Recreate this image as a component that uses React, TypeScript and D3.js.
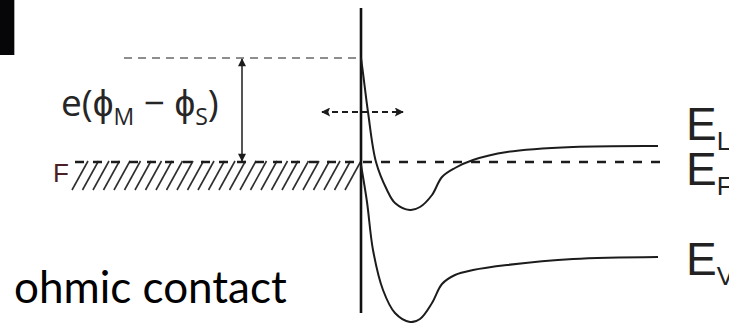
import React from 'react'
import * as d3 from 'd3'

// distance from the contact (nm) and band energy (eV, Fermi level = 0)
const cbPos = [0, 0.2, 0.7, 1.5, 2.6, 3.4, 4.9, 5.9, 7.1, 8.1, 9.4, 11.2, 14.6, 21.2, 29.7]
const cbEnergy = [2.08, 1.78, 1.0, 0, -0.56, -0.82, -0.96, -0.9, -0.66, -0.3, -0.12, 0.04, 0.2, 0.3, 0.32]
const vbPos = [0, 0.6, 1.2, 2.2, 3.4, 4.9, 5.9, 7.1, 8.1, 9.4, 11.2, 14.6, 21.2, 29.7]
const vbEnergy = [-0.06, -0.8, -1.76, -2.56, -3.02, -3.2, -3.14, -2.82, -2.44, -2.26, -2.16, -2.06, -1.94, -1.9]

const fermiLevel = 0
const metalTop = 2.08
const metalBottom = -0.56
const metalStart = -28.9
const bandEnd = 29.7
const bandLabels = ['L', 'F', 'V']
const bandLabelEnergy = [0.44, -0.46, -2.26]

const W = 729
const H = 323

function App() {
  const x = d3.scaleLinear().domain([-36.1, 36.8]).range([0, W])
  const y = d3.scaleLinear().domain([-3.22, 3.24]).range([H, 0])

  const line = d3
    .line<[number, number]>()
    .x(d => x(d[0]))
    .y(d => y(d[1]))
    .curve(d3.curveCatmullRom.alpha(0.5))

  const cb = line(cbPos.map((p, i) => [p, cbEnergy[i]]))
  const vb = line(vbPos.map((p, i) => [p, vbEnergy[i]]))

  const hatch = d3.range(metalStart, -0.6, 1.05)
  const ink = '#1c1c1c'

  return (
    <svg
      width={W}
      height={H}
      style={{ position: 'absolute', left: 0, top: 0, background: '#fff' }}
    >
      <defs>
        <marker id="ah" viewBox="0 0 10 10" refX="9" refY="5" markerWidth="10" markerHeight="8" markerUnits="userSpaceOnUse" orient="auto-start-reverse">
          <path d="M0,0 L10,5 L0,10 z" fill={ink} />
        </marker>
        <marker id="ah2" viewBox="0 0 10 10" refX="9" refY="5" markerWidth="13" markerHeight="9" markerUnits="userSpaceOnUse" orient="auto-start-reverse">
          <path d="M0,0 L10,5 L0,10 L2,5 z" fill={ink} />
        </marker>
      </defs>

      {/* corner block */}
      <rect x={0} y={0} width={14} height={55} fill="#060608" />
      <line x1={14.5} x2={14.5} y1={0} y2={55} stroke="#aaa" strokeWidth={1} />

      {/* metal work function level */}
      <line
        x1={x(-23.7)}
        x2={x(0)}
        y1={y(metalTop)}
        y2={y(metalTop)}
        stroke="#6a6a6a"
        strokeWidth={1.6}
        strokeDasharray="8 6"
      />

      {/* hatched metal */}
      {hatch.map((d, i) => (
        <line
          key={i}
          x1={x(d)}
          y1={y(metalBottom)}
          x2={x(d + 1.6)}
          y2={y(fermiLevel) - 1}
          stroke="#2e2e2e"
          strokeWidth={1.6}
        />
      ))}

      {/* Fermi level */}
      <line
        x1={x(-28.6)}
        x2={x(30.1)}
        y1={y(fermiLevel)}
        y2={y(fermiLevel)}
        stroke={ink}
        strokeWidth={2.6}
        strokeDasharray="9 9"
      />

      {/* interface */}
      <line x1={x(0)} x2={x(0)} y1={y(3.08)} y2={y(-3.02)} stroke="#111" strokeWidth={2.6} />

      {/* bands */}
      <path d={cb ?? ''} fill="none" stroke={ink} strokeWidth={2} />
      <path d={vb ?? ''} fill="none" stroke={ink} strokeWidth={2} />

      {/* work function difference arrow */}
      <line
        x1={x(-11.9)}
        x2={x(-11.9)}
        y1={y(metalTop) + 1}
        y2={y(fermiLevel) - 1}
        stroke={ink}
        strokeWidth={1.5}
        markerStart="url(#ah)"
        markerEnd="url(#ah)"
      />

      {/* tunnelling arrow */}
      <line
        x1={x(-3.9)}
        x2={x(4.2)}
        y1={y(1.0)}
        y2={y(1.0)}
        stroke={ink}
        strokeWidth={2.2}
        strokeDasharray="6 4"
        markerStart="url(#ah2)"
        markerEnd="url(#ah2)"
      />

      <text x={61} y={116} fontFamily="'Open Sans', sans-serif" fontSize={37} fill="#262626">
        e(ϕ
        <tspan fontSize={23} dy={9}>M</tspan>
        <tspan dy={-9}> − ϕ</tspan>
        <tspan fontSize={23} dy={9}>S</tspan>
        <tspan dy={-9}>)</tspan>
      </text>

      <text x={53} y={182} fontFamily="'Liberation Sans', sans-serif" fontSize={26} fill="#4b2024">
        F
      </text>

      {bandLabels.map((s, i) => (
        <text
          key={s}
          x={x(bandEnd) + 28}
          y={y(bandLabelEnergy[i])}
          fontFamily="'Liberation Sans', Arial, sans-serif"
          fontSize={46}
          fill="#222"
        >
          E<tspan fontSize={26} dy={10}>{s}</tspan>
        </text>
      ))}

      <text x={14} y={303} fontFamily="Lato, sans-serif" fontSize={44} fill="#000">
        ohmic contact
      </text>
    </svg>
  )
}

export default App
